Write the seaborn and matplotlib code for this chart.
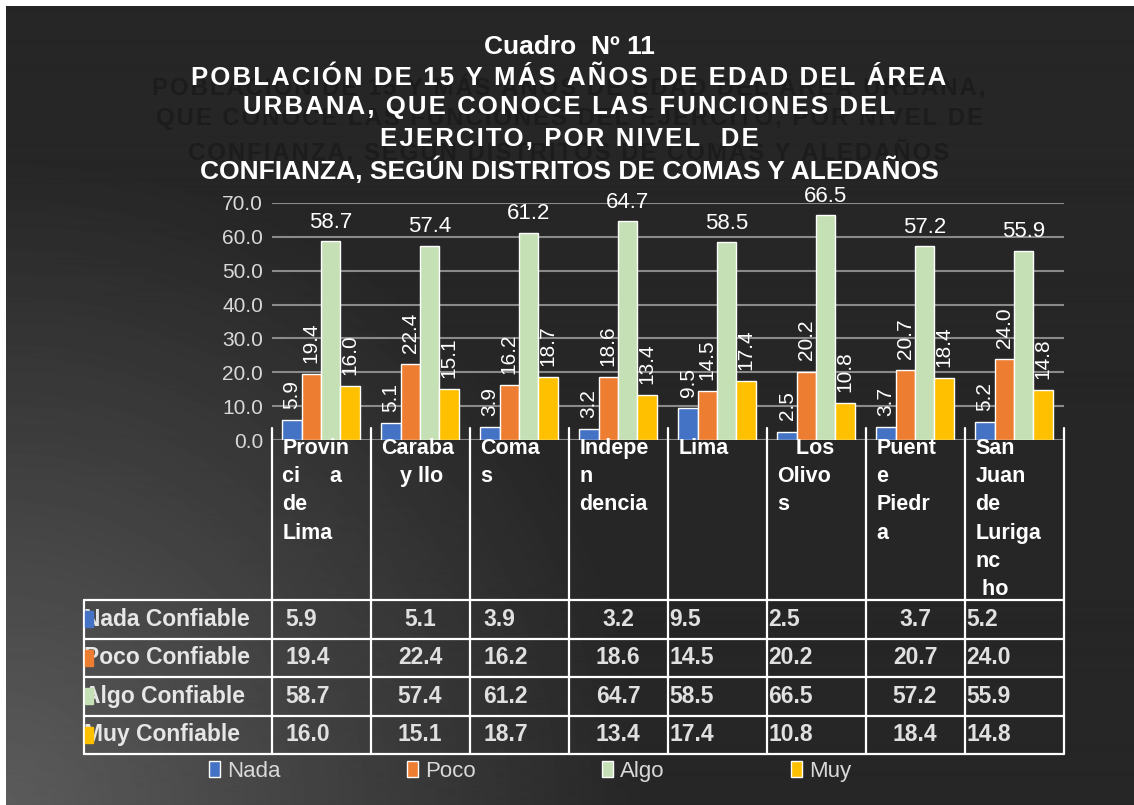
import numpy as np
import pandas as pd
import seaborn as sns
import matplotlib.pyplot as plt
import matplotlib.transforms as mtransforms
from matplotlib.lines import Line2D
from matplotlib.patches import Rectangle

## DATA ##
distritos = ['Provincia de Lima', 'Carabayllo', 'Comas', 'Independencia', 'Lima',
             'Los Olivos', 'Puente Piedra', 'San Juan de Lurigancho']
# headers come out wrapped like this in the original table
encabezados = ['Provin\nci     a\nde\nLima', 'Caraba\n   y llo', 'Coma\ns', 'Indepe\nn\ndencia',
               'Lima', '   Los\nOlivo\ns', 'Puent\ne\nPiedr\na', 'San\nJuan\nde\nLuriga\nnc\n ho']
niveles = ['Nada', 'Poco', 'Algo', 'Muy']
filas = ['Nada Confiable', 'Poco Confiable', 'Algo Confiable', 'Muy Confiable']
nada = [5.9, 5.1, 3.9, 3.2, 9.5, 2.5, 3.7, 5.2]
poco = [19.4, 22.4, 16.2, 18.6, 14.5, 20.2, 20.7, 24.0]
algo = [58.7, 57.4, 61.2, 64.7, 58.5, 66.5, 57.2, 55.9]
muy = [16.0, 15.1, 18.7, 13.4, 17.4, 10.8, 18.4, 14.8]
yticks = [0, 10, 20, 30, 40, 50, 60, 70]
colores = ['#4472C4', '#ED7D31', '#C5E0B4', '#FFC000']

series = [nada, poco, algo, muy]
df = pd.DataFrame({
    'distrito': distritos * 4,
    'nivel': [n for n in niveles for _ in distritos],
    'valor': nada + poco + algo + muy,
})

## STYLE ##
sns.set_theme(style='dark')
plt.rcParams['font.family'] = ['Liberation Sans', 'DejaVu Sans']

W, H = 1134, 805
def fx(px):
    return px / W
def fy(py):
    return (H - py) / H
def espaciado(s):
    # poor man's letter spacing
    return '\u200a'.join(s)

fig = plt.figure(figsize=(W / 100, H / 100), dpi=100)
fig.patch.set_facecolor('white')

# dark background, lighter towards the bottom-left corner
bg = fig.add_axes([fx(6), 0, 1 - fx(6), fy(6)])
xs = np.arange(6, W)
ys = np.arange(6, H)
gx, gy = np.meshgrid(xs, ys)
d = np.sqrt(gx ** 2 + (H - gy) ** 2)
t = np.clip(1 - d / 650, 0, 1)
img = (0x26 + 0x36 * t) / 255
bg.imshow(img, cmap='gray', vmin=0, vmax=1, aspect='auto')
bg.axis('off')

## TITLE ##
ghost = ['POBLACIÓN DE 15 Y MÁS AÑOS DE EDAD DEL ÁREA URBANA,',
         'QUE CONOCE LAS FUNCIONES DEL EJERCITO, POR NIVEL DE',
         'CONFIANZA, SEGÚN DISTRITOS DE COMAS Y ALEDAÑOS']
for line, py in zip(ghost, [88, 118, 153]):
    fig.text(fx(569), fy(py), espaciado(line), ha='center', va='center', fontsize=17.2,
             fontweight='bold', color='#1c1c1c')

titulo = ['Cuadro  Nº 11',
          espaciado('POBLACIÓN DE 15 Y MÁS AÑOS DE EDAD DEL ÁREA'),
          espaciado('URBANA, QUE CONOCE LAS FUNCIONES DEL'),
          espaciado('EJERCITO, POR NIVEL  DE'),
          'CONFIANZA, SEGÚN DISTRITOS DE COMAS Y ALEDAÑOS']
tamanos = [19, 18.5, 18.5, 18.5, 19]
for line, py, fs in zip(titulo, [47, 78, 107, 139, 170], tamanos):
    fig.text(fx(569), fy(py), line, ha='center', va='center', fontsize=fs,
             fontweight='bold', color='white')

## BARS ##
ax = fig.add_axes([fx(271.5), fy(440), fx(1063.5) - fx(271.5), fy(203) - fy(440)])
ax.set_facecolor('none')
sns.barplot(data=df, x='distrito', y='valor', hue='nivel', hue_order=niveles,
            palette=colores, saturation=1, width=0.78, ax=ax)
handles, labels = ax.get_legend_handles_labels()
ax.get_legend().remove()

ax.set_xlim(-0.5, 7.5)
ax.set_ylim(0, 70)
ax.set_yticks(yticks)
ax.set_yticklabels([f'{v:.1f}' for v in yticks])
ax.set_xticks([])
ax.set_xlabel('')
ax.set_ylabel('')
ax.tick_params(axis='y', colors='#d9d9d9', labelsize=15, length=0, pad=6)
ax.yaxis.grid(True, color='#8a8a8a', lw=1.5)
ax.set_axisbelow(True)
for s in ax.spines.values():
    s.set_visible(False)

for i, cont in enumerate(ax.containers):
    if niveles[i] == 'Algo':
        ax.bar_label(cont, fmt='%.1f', padding=6, color='white', fontsize=16)
    else:
        ax.bar_label(cont, fmt='%.1f', padding=8, color='white', fontsize=15, rotation=90)

## TABLE ##
trans = mtransforms.blended_transform_factory(ax.transData, fig.transFigure)
for j, h in enumerate(encabezados):
    ax.text(j - 0.5 + 11 / 99, fy(438), h, transform=trans, ha='left', va='top',
            fontsize=15.5, fontweight='bold', color='white', linespacing=1.45)

for b in np.arange(-0.5, 8, 1):
    fig.add_artist(Line2D([b, b], [fy(428), fy(754)], transform=trans,
                          color='white', lw=1.6))
fig.add_artist(Line2D([fx(84), fx(84)], [fy(600), fy(754)], color='white', lw=1.6))
for py in [600, 638.5, 677, 715.5, 754]:
    fig.add_artist(Line2D([fx(84), fx(1063.5)], [fy(py), fy(py)], color='white', lw=1.6))

alineacion = ['left', 'center', 'left', 'center', 'left', 'left', 'center', 'left']
margen = [14, 0, 14, 0, 2, 2, 0, 2]
for i, (fila, vals) in enumerate(zip(filas, series)):
    py = 619 + 38.5 * i
    fig.text(fx(84), fy(py), fila, ha='left', va='center', fontsize=16.5,
             fontweight='bold', color='#e6e6e6')
    fig.add_artist(Rectangle((fx(85), fy(py + 8)), fx(8), 16 / H,
                             color=colores[i], zorder=5))
    for j, v in enumerate(vals):
        xpos = j if alineacion[j] == 'center' else j - 0.5 + margen[j] / 99
        ax.text(xpos, fy(py), f'{v:.1f}', transform=trans, ha=alineacion[j],
                va='center', fontsize=16.5, fontweight='bold', color='#e0e0e0')

## LEGEND ##
fig.legend(handles, labels, loc='center', bbox_to_anchor=(fx(530), fy(771)), ncol=4,
           frameon=False, fontsize=16, labelcolor='#d9d9d9', handlelength=0.5,
           handleheight=0.7, handletextpad=0.3, columnspacing=5.7)

fig.savefig('out.png', dpi=100)
